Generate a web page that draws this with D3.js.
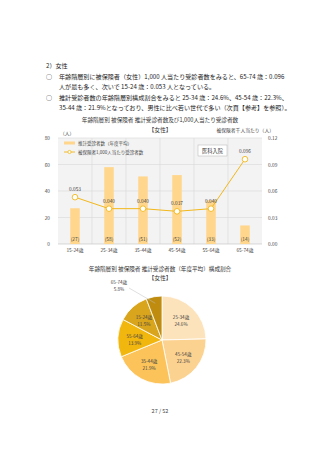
<!DOCTYPE html>
<html>
<head>
<meta charset="utf-8">
<script src="https://cdn.jsdelivr.net/npm/d3@7"></script>
<style>
  body { margin: 0; background: #fff; }
  svg { display: block; font-family: "Noto Sans CJK JP", "Noto Sans", sans-serif; }
</style>
</head>
<body>
<div id="page"></div>
<script>
// chart data
const ageGroups = ["15-24歳", "25-34歳", "35-44歳", "45-54歳", "55-64歳", "65-74歳"];
const patients = [27, 58, 51, 52, 33, 14];
const perThousand = [0.053, 0.040, 0.040, 0.037, 0.040, 0.096];
const leftTicks = [0, 20, 40, 60, 80];
const rightTicks = [0, 0.03, 0.06, 0.09, 0.12];

const pieLabels = ["25-34歳", "45-54歳", "35-44歳", "55-64歳", "15-24歳", "65-74歳"];
const pieShares = [24.6, 22.3, 21.9, 13.9, 11.5, 5.8];
const pieColors = ["#fde3bb", "#fcd290", "#fbc35a", "#f2b70f", "#d9a51c", "#bf8c0f"];

const introLines = [
    { x: 46, y: 68, t: "2）女性" },
    { x: 46, y: 79, t: "○" },
    { x: 59, y: 79, t: "年齢階層別に被保険者（女性）1,000 人当たり受診者数をみると、65-74 歳：0.096" },
    { x: 59, y: 89, t: "人が最も多く、次いで 15-24 歳：0.053 人となっている。" },
    { x: 46, y: 100, t: "○" },
    { x: 59, y: 100, t: "推計受診者数の年齢階層別構成割合をみると 25-34 歳：24.6%、45-54 歳：22.3%、" },
    { x: 59, y: 110, t: "35-44 歳：21.9%となっており、男性に比べ若い世代で多い（次頁【参考】を参照）。" }
];

const W = 320, H = 453;
const svg = d3.select("#page").append("svg").attr("width", W).attr("height", H);

svg.selectAll("text.intro")
    .data(introLines)
    .join("text")
    .attr("class", "intro")
    .attr("x", d => d.x)
    .attr("y", d => d.y)
    .attr("font-size", 6.1)
    .attr("fill", "#222")
    .text(d => d.t);

// ---- combo chart ----
const plot = { left: 58, right: 262, top: 138, bottom: 244 };

svg.append("text").attr("x", 160).attr("y", 122).attr("text-anchor", "middle")
    .attr("font-size", 5.6).attr("fill", "#333")
    .text("年齢階層別 被保険者 推計受診者数及び1,000人当たり受診者数");
svg.append("text").attr("x", 160).attr("y", 132).attr("text-anchor", "middle")
    .attr("font-size", 5.8).attr("fill", "#333").text("【女性】");

const x = d3.scaleBand().domain(ageGroups).range([plot.left, plot.right]);
const yL = d3.scaleLinear().domain([0, 80]).range([plot.bottom, plot.top]);
const yR = d3.scaleLinear().domain([0, 0.12]).range([plot.bottom, plot.top]);

svg.append("rect")
    .attr("x", plot.left).attr("y", plot.top)
    .attr("width", plot.right - plot.left).attr("height", plot.bottom - plot.top)
    .attr("fill", "#f3f3f3");

// grid
svg.append("g").selectAll("line")
    .data(leftTicks.slice(1))
    .join("line")
    .attr("x1", plot.left).attr("x2", plot.right)
    .attr("y1", d => yL(d)).attr("y2", d => yL(d))
    .attr("stroke", "#d9d9d9").attr("stroke-width", 0.6);
svg.append("g").selectAll("line")
    .data(ageGroups.slice(1))
    .join("line")
    .attr("x1", d => x(d)).attr("x2", d => x(d))
    .attr("y1", plot.top).attr("y2", plot.bottom)
    .attr("stroke", "#d9d9d9").attr("stroke-width", 0.6);
svg.append("line")
    .attr("x1", plot.left).attr("x2", plot.right)
    .attr("y1", plot.bottom).attr("y2", plot.bottom)
    .attr("stroke", "#bfbfbf").attr("stroke-width", 0.6);

// axes
const leftAxis = svg.append("g")
    .attr("transform", `translate(${plot.left},0)`)
    .call(d3.axisLeft(yL).tickValues(leftTicks).tickSize(0).tickPadding(8));
const rightAxis = svg.append("g")
    .attr("transform", `translate(${plot.right},0)`)
    .call(d3.axisRight(yR).tickValues(rightTicks).tickSize(0).tickPadding(6).tickFormat(d3.format(".2f")));
const bottomAxis = svg.append("g")
    .attr("transform", `translate(0,${plot.bottom})`)
    .call(d3.axisBottom(x).tickSize(0).tickPadding(5));
[leftAxis, rightAxis, bottomAxis].forEach(a => {
    a.select(".domain").remove();
    a.selectAll("text").attr("font-size", 4.8).attr("fill", "#444")
        .attr("font-family", "\"Noto Sans CJK JP\", sans-serif");
});

svg.append("text").attr("x", 60).attr("y", 135).attr("font-size", 4.8).attr("fill", "#444").text("（人）");
svg.append("text").attr("x", 274).attr("y", 132).attr("text-anchor", "end")
    .attr("font-size", 4.8).attr("fill", "#444").text("被保険者千人当たり（人）");

// bars
const barW = 9.5;
svg.append("g").selectAll("rect")
    .data(patients)
    .join("rect")
    .attr("x", (d, i) => x(ageGroups[i]) + x.bandwidth() / 2 - barW / 2)
    .attr("y", d => yL(d))
    .attr("width", barW)
    .attr("height", d => yL(0) - yL(d))
    .attr("fill", "#ffd68c");
svg.append("g").selectAll("text")
    .data(patients)
    .join("text")
    .attr("x", (d, i) => x(ageGroups[i]) + x.bandwidth() / 2)
    .attr("y", plot.bottom - 3)
    .attr("text-anchor", "middle")
    .attr("font-size", 4.8).attr("fill", "#444")
    .text(d => `(${d})`);

// line
const lineColor = "#f2b71a";
const line = d3.line()
    .x((d, i) => x(ageGroups[i]) + x.bandwidth() / 2)
    .y(d => yR(d));
svg.append("path")
    .datum(perThousand)
    .attr("fill", "none")
    .attr("stroke", lineColor)
    .attr("stroke-width", 1)
    .attr("d", line);
svg.append("g").selectAll("circle")
    .data(perThousand)
    .join("circle")
    .attr("cx", (d, i) => x(ageGroups[i]) + x.bandwidth() / 2)
    .attr("cy", d => yR(d))
    .attr("r", 2.8)
    .attr("fill", "#fff")
    .attr("stroke", lineColor)
    .attr("stroke-width", 0.9);
svg.append("g").selectAll("text")
    .data(perThousand)
    .join("text")
    .attr("x", (d, i) => x(ageGroups[i]) + x.bandwidth() / 2)
    .attr("y", d => yR(d) - 6)
    .attr("text-anchor", "middle")
    .attr("font-size", 4.8).attr("fill", "#444")
    .text(d => d3.format(".3f")(d));

// legend
const lg = svg.append("g").attr("transform", "translate(64,143)");
lg.append("rect").attr("x", 0).attr("y", -1.5).attr("width", 11).attr("height", 3).attr("fill", "#ffd68c");
lg.append("text").attr("x", 14).attr("y", 1.7).attr("font-size", 4.5).attr("fill", "#444").text("推計受診者数（年度平均）");
lg.append("line").attr("x1", 0).attr("x2", 11).attr("y1", 9).attr("y2", 9).attr("stroke", lineColor).attr("stroke-width", 0.9);
lg.append("circle").attr("cx", 5.5).attr("cy", 9).attr("r", 1.6).attr("fill", "#fff").attr("stroke", lineColor).attr("stroke-width", 0.8);
lg.append("text").attr("x", 14).attr("y", 10.7).attr("font-size", 4.5).attr("fill", "#444").text("被保険者1,000人当たり受診者数");

// tag box
svg.append("rect").attr("x", 198).attr("y", 145).attr("width", 29).attr("height", 11)
    .attr("fill", "#fff").attr("stroke", "#bfbfbf").attr("stroke-width", 0.6);
svg.append("text").attr("x", 212.5).attr("y", 152.8).attr("text-anchor", "middle")
    .attr("font-size", 5.2).attr("fill", "#333").text("医科入院");

// ---- pie chart ----
svg.append("text").attr("x", 160).attr("y", 271).attr("text-anchor", "middle")
    .attr("font-size", 5.6).attr("fill", "#333")
    .text("年齢階層別 被保険者 推計受診者数（年度平均）構成割合");
svg.append("text").attr("x", 160).attr("y", 280).attr("text-anchor", "middle")
    .attr("font-size", 5.8).attr("fill", "#333").text("【女性】");

const cx = 162, cy = 340, r = 44;
const pieData = pieShares.map((v, i) => ({ label: pieLabels[i], value: v, color: pieColors[i] }));
const arcs = d3.pie().sort(null).value(d => d.value)(pieData);
const arc = d3.arc().innerRadius(0).outerRadius(r);
const labelArc = d3.arc().innerRadius(r * 0.62).outerRadius(r * 0.62);

const pg = svg.append("g").attr("transform", `translate(${cx},${cy})`);
pg.selectAll("path")
    .data(arcs)
    .join("path")
    .attr("d", arc)
    .attr("fill", d => d.data.color)
    .attr("stroke", "#fff")
    .attr("stroke-width", 0.8);

const inside = arcs.slice(0, 5);
const lbl = pg.selectAll("g.lbl")
    .data(inside)
    .join("g")
    .attr("class", "lbl")
    .attr("transform", d => `translate(${labelArc.centroid(d)})`);
lbl.append("text").attr("y", -1).attr("text-anchor", "middle")
    .attr("font-size", 4.6).attr("fill", "#444").text(d => d.data.label);
lbl.append("text").attr("y", 6).attr("text-anchor", "middle")
    .attr("font-size", 4.6).attr("fill", "#444").text(d => d.data.value.toFixed(1) + "%");

// outside label for the smallest slice
const last = arcs[5];
const edge = d3.arc().innerRadius(r * 0.85).outerRadius(r * 0.85).centroid(last);
pg.append("line")
    .attr("x1", edge[0]).attr("y1", edge[1])
    .attr("x2", -33).attr("y2", -52)
    .attr("stroke", "#bfbfbf").attr("stroke-width", 0.5);
pg.append("text").attr("x", -43).attr("y", -56).attr("text-anchor", "middle")
    .attr("font-size", 4.6).attr("fill", "#444").text(last.data.label);
pg.append("text").attr("x", -43).attr("y", -49).attr("text-anchor", "middle")
    .attr("font-size", 4.6).attr("fill", "#444").text(last.data.value.toFixed(1) + "%");

// page number
svg.append("text").attr("x", 160).attr("y", 413).attr("text-anchor", "middle")
    .attr("font-size", 5.5).attr("fill", "#444").text("27 / 52");
</script>
</body>
</html>
